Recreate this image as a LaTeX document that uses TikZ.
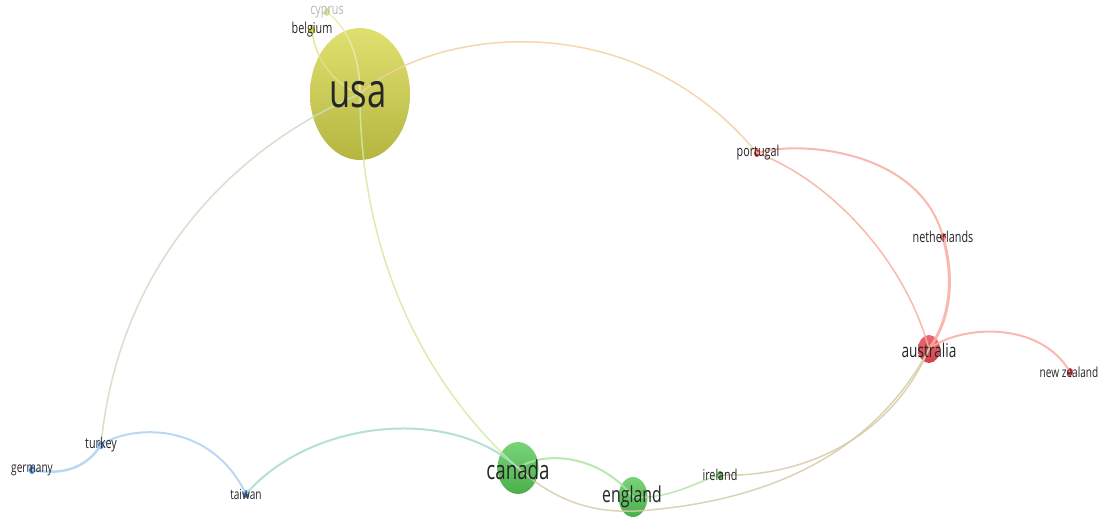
\documentclass[tikz,border=0pt]{standalone}
\usepackage{fontspec}
\newfontfamily\mapfont[FakeStretch=0.72]{Open Sans}
\usetikzlibrary{shapes.geometric}

\definecolor{usatop}{HTML}{E0E070}
\definecolor{usabot}{HTML}{B4B640}
\definecolor{grntop}{HTML}{78D478}
\definecolor{grnbot}{HTML}{4CAE4C}
\definecolor{redtop}{HTML}{EC6A72}
\definecolor{redbot}{HTML}{D2404C}
\definecolor{yeldot}{HTML}{C4C438}
\definecolor{reddot}{HTML}{D23440}
\definecolor{grndot}{HTML}{3CA03C}
\definecolor{bludot}{HTML}{3A78C0}
\definecolor{yelln}{HTML}{E2E48A}
\definecolor{redln}{HTML}{F9ADA2}
\definecolor{grnln}{HTML}{AEE4A2}
\definecolor{bluln}{HTML}{AED2F2}
\definecolor{yorln}{HTML}{F4D0A0}
\definecolor{ybln}{HTML}{CCDEC0}
\definecolor{ygln}{HTML}{D4EBA2}
\definecolor{gbln}{HTML}{A8DCCC}
\definecolor{grln}{HTML}{D6CCA8}

\tikzset{
  bubble/.style={ellipse, draw=none, inner sep=0pt},
  dot/.style={bubble, minimum width=6pt, minimum height=8pt, fill=#1},
  lbl/.style={font=\mapfont\fontsize{#1}{#1}\selectfont, text=black!85, inner sep=0pt},
  link/.style={line width=1.5pt, draw=#1, opacity=0.85},
}

\begin{document}
\begin{tikzpicture}[x=1pt, y=-1pt]
\useasboundingbox[fill=white] (0,0) rectangle (1100,518);

% big bubbles
\node[bubble, minimum width=100pt, minimum height=132pt, top color=usatop, bottom color=usabot] (usa) at (360,94) {};
\node[bubble, minimum width=41pt, minimum height=52pt, top color=grntop, bottom color=grnbot] (canada) at (518,468) {};
\node[bubble, minimum width=29pt, minimum height=40pt, top color=grntop, bottom color=grnbot] (england) at (633,497) {};
\node[bubble, minimum width=22pt, minimum height=28pt, top color=redtop, bottom color=redbot] (australia) at (929,349) {};

% small ones
\node[dot=yeldot] (belgium) at (312,30) {};
\node[dot=yeldot!60] (cyprus) at (327,12) {};
\node[dot=reddot] (portugal) at (757,153) {};
\node[dot=reddot] (netherlands) at (943,237) {};
\node[dot=reddot] (newzealand) at (1070,372) {};
\node[dot=grndot] (ireland) at (720,475) {};
\node[dot=bludot] (turkey) at (101,445) {};
\node[dot=bludot] (germany) at (32,470) {};
\node[dot=bludot] (taiwan) at (246,494) {};

% links
\draw[link=yelln] (belgium.center) .. controls (315,60) and (335,85) .. (usa.center);
\draw[link=yelln!70] (cyprus.center) .. controls (350,30) and (360,60) .. (usa.center);
\draw[link=yorln] (usa.center) .. controls (430,30) and (630,0) .. (portugal.center);
\draw[link=ybln] (usa.center) .. controls (250,140) and (120,250) .. (turkey.center);
\draw[link=ygln] (usa.center) .. controls (360,250) and (420,380) .. (canada.center);
\draw[link=gbln, line width=2pt] (taiwan.center) .. controls (310,420) and (450,405) .. (canada.center);
\draw[link=bluln, line width=2pt] (turkey.center) .. controls (130,425) and (210,420) .. (taiwan.center);
\draw[link=bluln, line width=2.5pt] (turkey.center) .. controls (85,470) and (60,475) .. (germany.center);
\draw[link=grnln, line width=2pt] (canada.center) .. controls (545,450) and (600,455) .. (england.center);
\draw[link=grln] (canada.center) .. controls (560,505) and (600,515) .. (650,510) .. controls (760,500) and (870,460) .. (australia.center);
\draw[link=grnln] (england.center) .. controls (670,500) and (700,480) .. (ireland.center);
\draw[link=grln] (ireland.center) .. controls (800,478) and (890,440) .. (australia.center);
\draw[link=redln] (portugal.center) .. controls (830,180) and (905,260) .. (australia.center);
\draw[link=redln, line width=2pt] (portugal.center) .. controls (800,140) and (920,150) .. (netherlands.center);
\draw[link=redln, line width=3pt] (netherlands.center) .. controls (955,280) and (950,320) .. (australia.center);
\draw[link=redln, line width=2pt] (australia.center) .. controls (960,325) and (1040,320) .. (newzealand.center);

% labels
\node[lbl=48] (usa-l) at (358,95) {usa};
\node[lbl=26] (canada-l) at (518,470) {canada};
\node[lbl=22] (england-l) at (632,497) {england};
\node[lbl=19] (australia-l) at (929,350) {australia};
\node[lbl=15] (belgium-l) at (312,30) {belgium};
\node[lbl=15, text=black!28] (cyprus-l) at (327,12) {cyprus};
\node[lbl=15] (portugal-l) at (758,153) {portugal};
\node[lbl=15] (netherlands-l) at (943,237) {netherlands};
\node[lbl=14] (newzealand-l) at (1069,372) {new zealand};
\node[lbl=15] (ireland-l) at (720,475) {ireland};
\node[lbl=15] (turkey-l) at (101,445) {turkey};
\node[lbl=14] (germany-l) at (32,470) {germany};
\node[lbl=14] (taiwan-l) at (246,494) {taiwan};
\end{tikzpicture}
\end{document}
